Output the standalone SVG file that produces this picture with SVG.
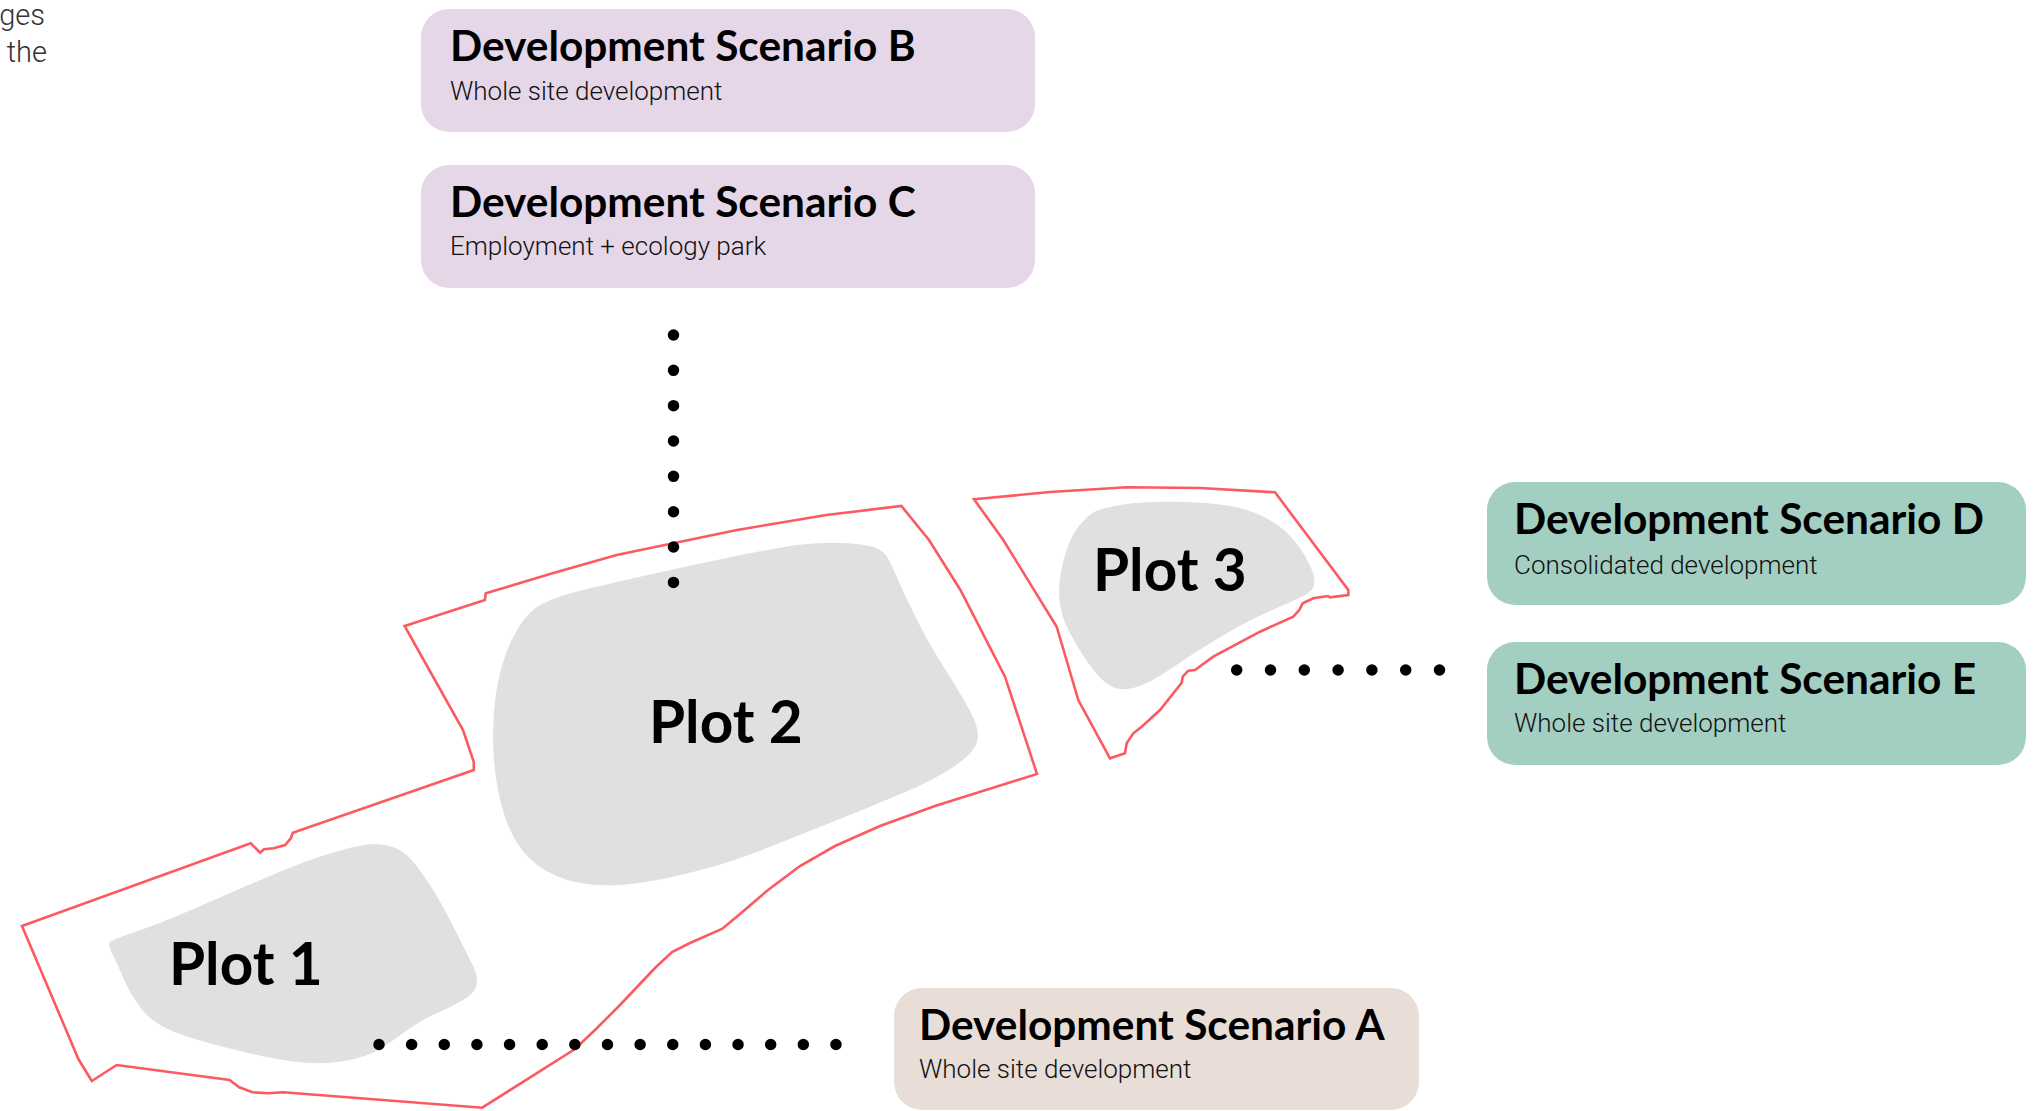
<svg xmlns="http://www.w3.org/2000/svg" width="2040" height="1111" viewBox="0 0 2040 1111">
<style>
.bg{fill:#ffffff}
.blob{fill:#e0e0e0}
.site{fill:none;stroke:#fb5a60;stroke-width:2.6;stroke-linejoin:miter}
.plot{font-family:Lato,"Noto Sans",sans-serif;font-weight:700;font-size:58.5px;fill:#000}
.title{font-family:Lato,"Noto Sans",sans-serif;font-weight:700;font-size:42.4px;fill:#000}
.sub{font-family:Roboto,"Liberation Sans",sans-serif;font-weight:300;font-size:26px;fill:#111}
.note{font-family:Roboto,"Liberation Sans",sans-serif;font-weight:300;font-size:29px;fill:#333}
.lilac{fill:#e6d7e8}
.teal{fill:#a3cfc2}
.sand{fill:#e9ddd8}
.dots{fill:none;stroke:#000;stroke-width:11.5;stroke-linecap:round}
</style>
<rect class="bg" x="0" y="0" width="2040" height="1111"/>
<text class="note" x="45" y="25" text-anchor="end">ges</text>
<text class="note" x="47" y="62" text-anchor="end">the</text>

<g id="site">
<path class="blob" d="M 109.5,942.5 Q 111,940 135.9,931.7 Q 160.7,923.3 195.2,908.3 Q 229.6,893.3 267.9,876.7 Q 306.2,860 336.8,851.4 Q 367.4,842.7 381.2,844.4 Q 395,846 404.2,853 Q 413.3,860 426.7,880 Q 440,900 453.5,926.7 Q 466.9,953.3 472.7,965 Q 478.4,976.7 476.5,985 Q 474.6,993.3 463.1,1000 Q 451.6,1006.7 436.3,1013.4 Q 421,1020 407.6,1030 Q 394.2,1040 380.8,1048.4 Q 367.4,1056.7 344.5,1060.9 Q 321.5,1065 294.8,1061.7 Q 268,1058.3 225.9,1047.5 Q 183.7,1036.7 166.5,1028.4 Q 149.3,1020 139.7,1006.7 Q 130,993.3 124.3,980 Q 118.6,966.7 113.3,955.9 Q 108,945 109.5,942.5 Z"/>
<path class="blob" d="M 804.1,544.2 Q 826.4,541.7 848.7,543.35 Q 871,545 878.85,549.15 Q 886.7,553.3 892.3,566.65 Q 897.9,580 911.25,608.35 Q 924.6,636.7 942.5,665 Q 960.4,693.3 970.4,711.65 Q 980.4,730 977.1,741.65 Q 973.75,753.3 953.7,766.65 Q 933.6,780 902.3,793.35 Q 871,806.7 837.5,820 Q 804,833.3 766.1,848.3 Q 728.2,863.3 688.05,873.3 Q 647.9,883.3 618.85,885 Q 589.8,886.7 567.4,880 Q 545,873.3 529.45,858.3 Q 513.9,843.3 504.95,816.65 Q 496,790 493.8,756.65 Q 491.6,723.3 496.05,693.3 Q 500.5,663.3 511.7,640 Q 522.9,616.7 536.25,607.5 Q 549.6,598.3 576.4,591.65 Q 603.2,585 647.85,575 Q 692.5,565 737.15,555.85 Q 781.8,546.7 804.1,544.2 Z"/>
<path class="blob" d="M 1093.35,512.5 Q 1100,508.3 1123.35,504.5 Q 1146.7,500.7 1186.7,502 Q 1226.7,503.3 1246.7,510 Q 1266.7,516.7 1280,526.7 Q 1293.3,536.7 1303.3,553.35 Q 1313.3,570 1314.15,578.35 Q 1315,586.7 1310.85,590.85 Q 1306.7,595 1296.7,599.15 Q 1286.7,603.3 1265,613.3 Q 1243.3,623.3 1218.3,638.3 Q 1193.3,653.3 1171.65,668.3 Q 1150,683.3 1135,687.5 Q 1120,691.7 1110,685.85 Q 1100,680 1088.35,663.35 Q 1076.7,646.7 1068.35,630 Q 1060,613.3 1059.15,596.65 Q 1058.3,580 1064.15,558.35 Q 1070,536.7 1078.35,526.7 Q 1086.7,516.7 1093.35,512.5 Z"/>
<polygon class="site" points="22,926 250.7,843.3 260.2,852.7 264,849.3 273.6,848.3 285.1,845 290.8,838.3 292.8,832.7 473.8,770 473.8,762 463,730 404.6,626 484.9,600 485.8,593.3 550,574 616.6,555 737,530 826.4,515 901.4,506 929,540 960.4,590 1005,676.7 1037,774 935,806 880,826 835,846 800,866 768,890 740,914 722,929 690,943 672,952 655,968 620,1005 596,1029 575,1049 482.2,1107.7 283.2,1092.3 267.9,1093.3 252.6,1092.3 239.2,1087.3 229.6,1080 116.7,1065 91.8,1081 78.5,1059.3"/>
<polygon class="site" points="974,499.3 1050,492 1126.7,487.3 1200,488 1275,492.3 1348.3,590 1348.3,595 1330,597.3 1328,596 1313.3,598.3 1302.7,603.3 1299.3,610 1293.3,616.7 1260,631.7 1213.3,656.7 1195,670 1188.3,670.7 1182.7,676.7 1181.7,682.7 1160,710 1141.7,726.7 1133.3,733.3 1126.7,743.3 1125,753.3 1110,758.3 1078.3,700 1056.7,626.7 1003.3,540"/>
</g>

<g id="plot1"><text class="plot" x="169" y="985">Plot 1</text></g>
<g id="plot2"><text class="plot" x="649" y="743">Plot 2</text></g>
<g id="plot3"><text class="plot" x="1093" y="591">Plot 3</text></g>

<g id="connectors">
<line class="dots" x1="673.5" y1="335" x2="673.5" y2="583.4" stroke-dasharray="0 35.34"/>
<line class="dots" x1="1236.7" y1="670" x2="1440.5" y2="670" stroke-dasharray="0 33.8"/>
<line class="dots" x1="379" y1="1044.5" x2="837" y2="1044.5" stroke-dasharray="0 32.64"/>
</g>

<g id="scenarioB">
<rect class="lilac" x="421" y="9" width="614" height="123" rx="28"/>
<text class="title" x="450" y="61">Development Scenario B</text>
<text class="sub" x="450" y="100">Whole site development</text>
</g>
<g id="scenarioC">
<rect class="lilac" x="421" y="165" width="614" height="123" rx="28"/>
<text class="title" x="450" y="217">Development Scenario C</text>
<text class="sub" x="450" y="255">Employment + ecology park</text>
</g>
<g id="scenarioD">
<rect class="teal" x="1487" y="482" width="539" height="123" rx="28"/>
<text class="title" x="1514" y="534">Development Scenario D</text>
<text class="sub" x="1514" y="574">Consolidated development</text>
</g>
<g id="scenarioE">
<rect class="teal" x="1487" y="642" width="539" height="123" rx="28"/>
<text class="title" x="1514" y="694">Development Scenario E</text>
<text class="sub" x="1514" y="732">Whole site development</text>
</g>
<g id="scenarioA">
<rect class="sand" x="894" y="988" width="525" height="122" rx="28"/>
<text class="title" x="919" y="1040">Development Scenario A</text>
<text class="sub" x="919" y="1078">Whole site development</text>
</g>
</svg>
